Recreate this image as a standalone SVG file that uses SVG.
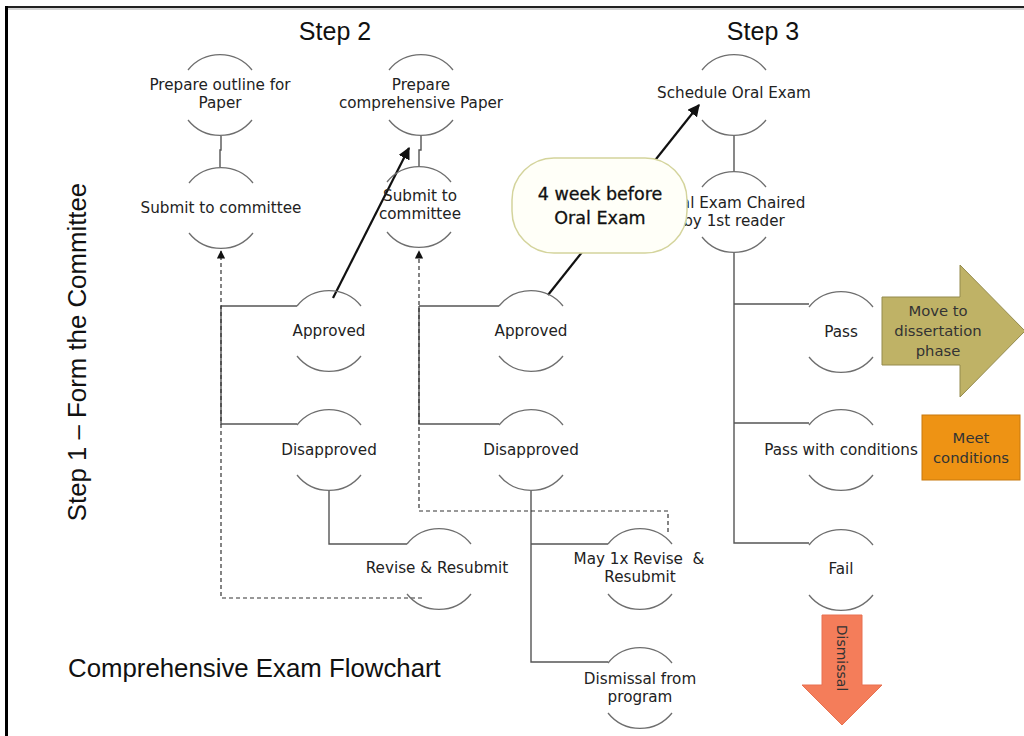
<svg xmlns="http://www.w3.org/2000/svg" width="1024" height="736" viewBox="0 0 1024 736">
<style>
.arc{fill:none;stroke:#6e6e6e;stroke-width:1.3}
.nt{font-family:"DejaVu Sans",Verdana,sans-serif;font-size:15.2px;fill:#222;text-anchor:middle}
.hd{font-family:"Liberation Sans",Arial,sans-serif;font-size:25px;fill:#111}
.hl{font-size:25.8px}
.ln{fill:none;stroke:#555;stroke-width:1.4}
.ds{fill:none;stroke:#333;stroke-width:1.2;stroke-dasharray:4 3}
.bk{fill:none;stroke:#111;stroke-width:2.2}
.bt{font-family:"DejaVu Sans",Verdana,sans-serif;font-size:14.8px;fill:#333;text-anchor:middle}
</style>
<defs>
<marker id="ah" viewBox="0 0 10 10" refX="9" refY="5" markerWidth="5.5" markerHeight="5.5" orient="auto-start-reverse" markerUnits="strokeWidth">
<path d="M0,0 L10,5 L0,10 z" fill="#111"/>
</marker>
<marker id="ah2" viewBox="0 0 10 10" refX="9" refY="5" markerWidth="7" markerHeight="7" orient="auto" markerUnits="strokeWidth">
<path d="M0,0 L10,5 L0,10 z" fill="#111"/>
</marker>
</defs>
<rect width="1024" height="736" fill="#fff"/>
<!-- frame -->
<line x1="5" y1="7" x2="1024" y2="7" stroke="#222" stroke-width="2"/>
<line x1="5" y1="9" x2="1024" y2="9" stroke="#aaa" stroke-width="1"/>
<line x1="6.5" y1="6" x2="6.5" y2="736" stroke="#000" stroke-width="3"/>

<!-- headings -->
<text class="hd" x="335" y="40" text-anchor="middle">Step 2</text>
<text class="hd" x="763" y="40" text-anchor="middle">Step 3</text>
<text class="hd hl" transform="translate(86,352) rotate(-90)" text-anchor="middle">Step 1 – Form the Committee</text>
<text class="hd hl" x="68" y="677">Comprehensive Exam Flowchart</text>

<!-- connectors -->
<g id="connectors">
<path class="ln" d="M221,136 V150 H220 V167"/>
<path class="ln" d="M421,136 V150 H419 V166"/>
<path class="ln" d="M734,136 V171"/>
<path class="ln" d="M221,306 H297 M221,306 V424 H297"/>
<path class="ln" d="M419,306 H499 M419,306 V424 H499"/>
<path class="ln" d="M329,491 V544 H407"/>
<path class="ln" d="M531,491 V662 H608 M531,544 H608"/>
<path class="ln" d="M734,253 V543 H809 M734,304 H809 M734,423 H809"/>
<path class="ds" d="M422,598 H221 V251" marker-end="url(#ah2)"/>
<path class="ds" d="M668,532 V511 H419 V251" marker-end="url(#ah2)"/>
<line class="bk" x1="333" y1="298" x2="409" y2="148" marker-end="url(#ah)"/>
<line class="bk" x1="548" y1="295" x2="699" y2="105" marker-end="url(#ah)"/>
</g>

<!-- nodes -->
<g id="n1"><path class="arc" d="M188,70 A41,41 0 0 1 252,70 M188,120 A41,41 0 0 0 252,120"/>
<text class="nt" x="220" y="90">Prepare outline for</text><text class="nt" x="220" y="108">Paper</text></g>
<g id="n2"><path class="arc" d="M189,183 A41,41 0 0 1 253,183 M189,233 A41,41 0 0 0 253,233"/>
<text class="nt" x="221" y="213">Submit to committee</text></g>
<g id="n3"><path class="arc" d="M389,70 A41,41 0 0 1 453,70 M389,120 A41,41 0 0 0 453,120"/>
<text class="nt" x="421" y="90">Prepare</text><text class="nt" x="421" y="108">comprehensive Paper</text></g>
<g id="n4"><path class="arc" d="M387,182 A41,41 0 0 1 451,182 M387,232 A41,41 0 0 0 451,232"/>
<text class="nt" x="420" y="201">Submit to</text><text class="nt" x="420" y="219">committee</text></g>
<g id="n5"><path class="arc" d="M702,70 A41,41 0 0 1 766,70 M702,120 A41,41 0 0 0 766,120"/>
<text class="nt" x="734" y="98">Schedule Oral Exam</text></g>
<g id="n6"><path class="arc" d="M702,187 A41,41 0 0 1 766,187 M702,237 A41,41 0 0 0 766,237"/>
<text class="nt" x="734" y="208">Oral Exam Chaired</text><text class="nt" x="734" y="226">by 1st reader</text></g>
<g id="n7"><path class="arc" d="M297,306 A41,41 0 0 1 361,306 M297,356 A41,41 0 0 0 361,356"/>
<text class="nt" x="329" y="336">Approved</text></g>
<g id="n8"><path class="arc" d="M297,425 A41,41 0 0 1 361,425 M297,475 A41,41 0 0 0 361,475"/>
<text class="nt" x="329" y="455">Disapproved</text></g>
<g id="n9"><path class="arc" d="M499,306 A41,41 0 0 1 563,306 M499,356 A41,41 0 0 0 563,356"/>
<text class="nt" x="531" y="336">Approved</text></g>
<g id="n10"><path class="arc" d="M499,425 A41,41 0 0 1 563,425 M499,475 A41,41 0 0 0 563,475"/>
<text class="nt" x="531" y="455">Disapproved</text></g>
<g id="n11"><path class="arc" d="M407,544 A41,41 0 0 1 471,544 M407,594 A41,41 0 0 0 471,594"/>
<text class="nt" x="437" y="573">Revise &amp; Resubmit</text></g>
<g id="n12"><path class="arc" d="M608,544 A41,41 0 0 1 672,544 M608,594 A41,41 0 0 0 672,594"/>
<text class="nt" x="639" y="564" xml:space="preserve">May 1x Revise  &amp;</text><text class="nt" x="640" y="582">Resubmit</text></g>
<g id="n13"><path class="arc" d="M608,663 A41,41 0 0 1 672,663 M608,713 A41,41 0 0 0 672,713"/>
<text class="nt" x="640" y="684">Dismissal from</text><text class="nt" x="640" y="702">program</text></g>
<g id="n14"><path class="arc" d="M809,307 A41,41 0 0 1 873,307 M809,357 A41,41 0 0 0 873,357"/>
<text class="nt" x="841" y="337">Pass</text></g>
<g id="n15"><path class="arc" d="M809,425 A41,41 0 0 1 873,425 M809,475 A41,41 0 0 0 873,475"/>
<text class="nt" x="841" y="455">Pass with conditions</text></g>
<g id="n16"><path class="arc" d="M809,545 A41,41 0 0 1 873,545 M809,595 A41,41 0 0 0 873,595"/>
<text class="nt" x="841" y="574">Fail</text></g>

<!-- callout -->
<g id="callout">
<rect x="512" y="158" width="175" height="95" rx="42" ry="42" fill="#fffff8" stroke="#d4d49c" stroke-width="1.5"/>
<text x="600" y="200" text-anchor="middle" font-family="DejaVu Sans,Verdana,sans-serif" font-size="17.5" fill="#111" stroke="#111" stroke-width="0.3">4 week before</text>
<text x="600" y="224" text-anchor="middle" font-family="DejaVu Sans,Verdana,sans-serif" font-size="17.5" fill="#111" stroke="#111" stroke-width="0.3">Oral Exam</text>
</g>

<!-- outcome arrows -->
<g id="move">
<path d="M882,297 H960 V265 L1025,331 L960,397 V365 H882 Z" fill="#bfb266" stroke="#948a4c" stroke-width="1"/>
<text class="bt" x="938" y="316">Move to</text><text class="bt" x="938" y="336">dissertation</text><text class="bt" x="938" y="356">phase</text>
</g>
<g id="meet">
<rect x="922" y="415" width="98" height="65" fill="#ee9314" stroke="#c8780c" stroke-width="1"/>
<text class="bt" x="971" y="443">Meet</text><text class="bt" x="971" y="463">conditions</text>
</g>
<g id="dismiss">
<path d="M822,615 H862 V685 H882 L842,725 L802,685 H822 Z" fill="#f47d5a" stroke="#e87050" stroke-width="1"/>
<text class="bt" transform="translate(837,658) rotate(90)" style="font-size:14px">Dismissal</text>
</g>
</svg>
